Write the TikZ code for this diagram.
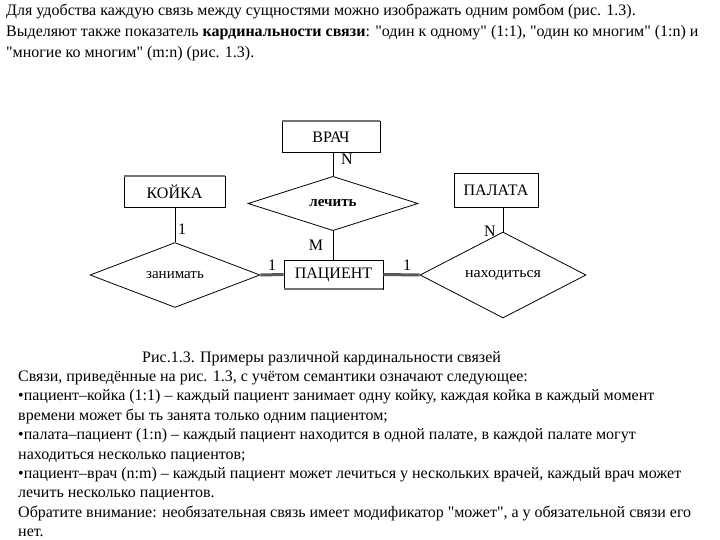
\documentclass[tikz,border=0pt]{standalone}
\usepackage{graphicx}
\usepackage{fontspec}
\setmainfont{Liberation Serif}[Ligatures=TeXOff]
\usetikzlibrary{shapes.geometric}
\begin{document}
\begin{tikzpicture}[x=1pt,y=-1pt,
  txt/.style={anchor=base west,inner sep=0pt,font=\fontsize{16}{18}\selectfont},
  ent/.style={draw=black,line width=0.8pt,fill=white,inner sep=0pt,font=\fontsize{16}{18}\selectfont},
  rel/.style={draw=black,line width=0.8pt,shape=diamond,inner sep=0pt,font=\fontsize{15}{17}\selectfont},
  conn/.style={draw=black,line width=0.8pt},
  thickconn/.style={draw=black!65,line width=3pt},
  card/.style={inner sep=0pt,font=\fontsize{16}{18}\selectfont},
  edge/.style={draw=black!55,line width=2pt}]
\useasboundingbox (0,0) rectangle (720,540);
% header text
\node[txt] (t1) at (6,16) {Для удобства каждую связь между сущностями можно изображать одним ромбом (рис. 1.3).};
\node[txt] (t2) at (6,37) {Выделяют также показатель \textbf{кардинальности связи}: "один к одному" (1:1), "один ко многим" (1:n) и};
\node[txt] (t3) at (6,58) {"многие ко многим" (m:n) (рис. 1.3).};
% entities
\node[ent,minimum width=98,minimum height=31] (vrach) at (331,137) {ВРАЧ};
\node[ent,minimum width=101,minimum height=31] (koika) at (174.5,191.5) {КОЙКА};
\node[ent,minimum width=84,minimum height=34] (palata) at (496,190) {ПАЛАТА};
\node[ent,minimum width=99,minimum height=29] (pacient) at (333.5,274.5) {ПАЦИЕНТ};
% relationships
\node[rel,minimum width=170,minimum height=51] (lechit) at (333,203.5) {\bfseries лечить};
\node[rel,minimum width=170,minimum height=56] (zanimat) at (175,275) {занимать};
\node[rel,minimum width=166,minimum height=56] (nahod) at (503,275) {\resizebox{76pt}{\height}{находиться}};
% accent edges
\draw[edge] (vrach.north west) -- (vrach.north east);
\draw[edge] (koika.north west) -- (koika.north east);
\draw[edge] (pacient.south west) -- (pacient.south east);
% connectors
\draw[conn] (vrach.south -| lechit.north) -- (lechit.north);
\draw[conn] (lechit.south) -- (lechit.south |- pacient.north);
\draw[conn] (koika.south -| zanimat.north) -- (zanimat.north);
\draw[conn] (palata.south -| nahod.north) -- (nahod.north);
\draw[thickconn] (zanimat.east) -- (pacient.west);
\draw[thickconn] (pacient.east) -- (nahod.west);
% cardinalities
\node[card] (cN1) at (347,159) {N};
\node[card] (cM) at (316,245) {M};
\node[card] (c1a) at (182,229) {1};
\node[card] (cN2) at (490,231) {N};
\node[card] (c1b) at (272,265) {1};
\node[card] (c1c) at (407,265) {1};
% caption and body
\node[txt] (cap) at (142,362) {Рис.1.3. Примеры различной кардинальности связей};
\node[txt] (b1) at (18,381.4) {Связи, приведённые на рис. 1.3, с учётом семантики означают следующее:};
\node[txt] (b2) at (18,400.8) {•пациент–койка (1:1) – каждый пациент занимает одну койку, каждая койка в каждый момент};
\node[txt] (b3) at (18,420.2) {времени может бы ть занята только одним пациентом;};
\node[txt] (b4) at (18,439.6) {•палата–пациент (1:n) – каждый пациент находится в одной палате, в каждой палате могут};
\node[txt] (b5) at (18,459) {находиться несколько пациентов;};
\node[txt] (b6) at (18,478.4) {•пациент–врач (n:m) – каждый пациент может лечиться у нескольких врачей, каждый врач может};
\node[txt] (b7) at (18,497.8) {лечить несколько пациентов.};
\node[txt] (b8) at (18,517.2) {Обратите внимание: необязательная связь имеет модификатор "может", а у обязательной связи его};
\node[txt] (b9) at (18,536.6) {нет.};
\end{tikzpicture}
\end{document}
